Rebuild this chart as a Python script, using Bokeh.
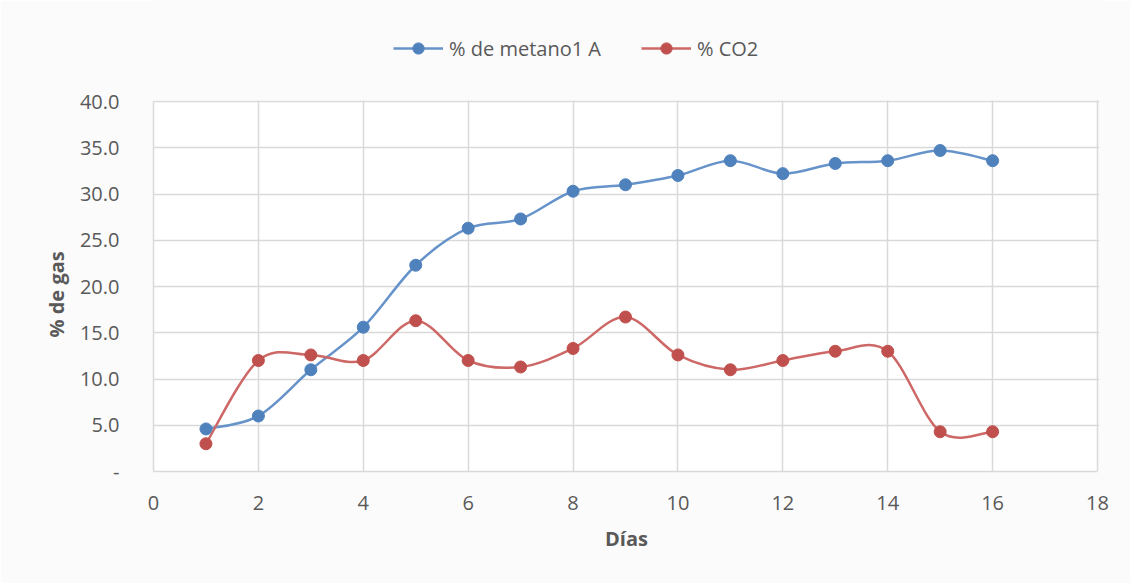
from bokeh.plotting import figure
from bokeh.models import (ColumnDataSource, Legend, LegendItem, FixedTicker,
                          NumeralTickFormatter, Title)
from bokeh.embed import file_html
from bokeh.resources import INLINE

dias = [1, 2, 3, 4, 5, 6, 7, 8, 9, 10, 11, 12, 13, 14, 15, 16]
metano = [4.6, 6.0, 11.0, 15.6, 22.3, 26.3, 27.3, 30.3, 31.0, 32.0, 33.6, 32.2, 33.3, 33.6, 34.7, 33.6]
co2 = [3.0, 12.0, 12.6, 12.0, 16.3, 12.0, 11.3, 13.3, 16.7, 12.6, 11.0, 12.0, 13.0, 13.0, 4.3, 4.3]
x_ticks = [0, 2, 4, 6, 8, 10, 12, 14, 16, 18]
y_ticks = [0, 5, 10, 15, 20, 25, 30, 35, 40]
series_names = ["% de metano1 A", "% CO2"]
x_title = "Días"
y_title = "% de gas"

BLUE = "#4F81BD"
RED = "#C0504D"
BLUE_LINE = "#6793CB"
RED_LINE = "#CD6866"
FONT = "Open Sans"
TXT = "#595959"
GRID = "#d9d9d9"
BG = "#fbfbfb"

X_MAX, Y_MAX = 18, 40
Y_PX = 370 / Y_MAX      # pixels per y unit
X_PX = 944 / X_MAX      # pixels per x unit
TOP_PAD = 101           # px of headroom above the 40 line (holds the legend)


def smooth(xs, ys, t=1.0 / 6.0):
    n = len(xs)
    d = dict(x0=[], y0=[], x1=[], y1=[], cx0=[], cy0=[], cx1=[], cy1=[])
    for i in range(n - 1):
        xm, ym = (xs[i - 1], ys[i - 1]) if i > 0 else (xs[i], ys[i])
        xp, yp = (xs[i + 2], ys[i + 2]) if i + 2 < n else (xs[i + 1], ys[i + 1])
        d["x0"].append(xs[i]); d["y0"].append(ys[i])
        d["x1"].append(xs[i + 1]); d["y1"].append(ys[i + 1])
        d["cx0"].append(xs[i] + (xs[i + 1] - xm) * t)
        d["cy0"].append(ys[i] + (ys[i + 1] - ym) * t)
        d["cx1"].append(xs[i + 1] - (xp - xs[i]) * t)
        d["cy1"].append(ys[i + 1] - (yp - ys[i]) * t)
    return ColumnDataSource(d)


p = figure(width=1130, height=583, x_range=(0, X_MAX + 2 / X_PX),
           y_range=(0, Y_MAX + TOP_PAD / Y_PX),
           output_backend="svg", toolbar_location=None,
           min_border_left=153, min_border_right=31, min_border_top=0, min_border_bottom=112)

p.background_fill_color = BG
p.border_fill_color = BG
p.outline_line_color = None

# white plot area below the grid
p.quad(left=[0], right=[X_MAX], bottom=[0], top=[Y_MAX], fill_color="#ffffff",
       line_color=None, level="image")

p.xaxis.ticker = FixedTicker(ticks=x_ticks)
p.yaxis.ticker = FixedTicker(ticks=y_ticks)
p.yaxis.formatter = NumeralTickFormatter(format="0.0")
p.yaxis.major_label_overrides = {0: "-"}
p.yaxis.bounds = (0, Y_MAX)
p.xaxis.bounds = (0, X_MAX)

for ax in (p.xaxis, p.yaxis):
    ax.axis_line_color = GRID
    ax.axis_line_width = 1.5
    ax.major_tick_line_color = None
    ax.minor_tick_line_color = None
    ax.major_label_text_font = FONT
    ax.major_label_text_font_size = "20px"
    ax.major_label_text_color = TXT
    ax.axis_label_text_font = FONT
    ax.axis_label_text_font_size = "20px"
    ax.axis_label_text_font_style = "bold"
    ax.axis_label_text_color = TXT

p.xaxis.axis_label = x_title
p.xaxis.major_label_standoff = 18
p.yaxis.major_label_standoff = 28
p.xaxis.axis_label_standoff = 12

# y-axis title, placed on the left of the tick labels, centred on the 0..40 span
ytitle = Title(text=y_title, align="left", offset=134, standoff=14,
               text_font=FONT, text_font_size="20px", text_font_style="bold",
               text_color=TXT)
p.add_layout(ytitle, "left")

p.xgrid.grid_line_color = GRID
p.ygrid.grid_line_color = GRID
p.xgrid.grid_line_width = 1.5
p.ygrid.grid_line_width = 1.5

# hide vertical grid lines above the plot area (legend zone)
p.quad(left=[-1], right=[X_MAX + 1], bottom=[Y_MAX + 1 / Y_PX], top=[Y_MAX + 2 * TOP_PAD / Y_PX],
       fill_color=BG, line_color=None)

s1 = smooth(dias, metano)
s2 = smooth(dias, co2)
p.bezier(x0="x0", y0="y0", x1="x1", y1="y1", cx0="cx0", cy0="cy0", cx1="cx1", cy1="cy1",
         source=s1, line_color=BLUE_LINE, line_width=2.5)
p.bezier(x0="x0", y0="y0", x1="x1", y1="y1", cx0="cx0", cy0="cy0", cx1="cx1", cy1="cy1",
         source=s2, line_color=RED_LINE, line_width=2.5)
m1 = p.scatter(dias, metano, size=12, fill_color=BLUE, line_color=BLUE)
m2 = p.scatter(dias, co2, size=12, fill_color=RED, line_color=RED)

# legend glyph proxies (line + marker)
l1 = p.line([-10, -9], [-10, -9], line_color=BLUE_LINE, line_width=2.5)
l2 = p.line([-10, -9], [-10, -9], line_color=RED_LINE, line_width=2.5)

legend = Legend(items=[LegendItem(label=series_names[0], renderers=[l1, m1]),
                       LegendItem(label=series_names[1], renderers=[l2, m2])],
                orientation="horizontal", location=(240, 409),
                glyph_width=50, glyph_height=28, spacing=40, label_standoff=6,
                background_fill_alpha=0, border_line_color=None,
                label_text_font=FONT, label_text_font_size="20px", label_text_color=TXT,
                padding=0, margin=0)
p.add_layout(legend, "center")

open("out.html", "w").write(file_html(p, INLINE))
